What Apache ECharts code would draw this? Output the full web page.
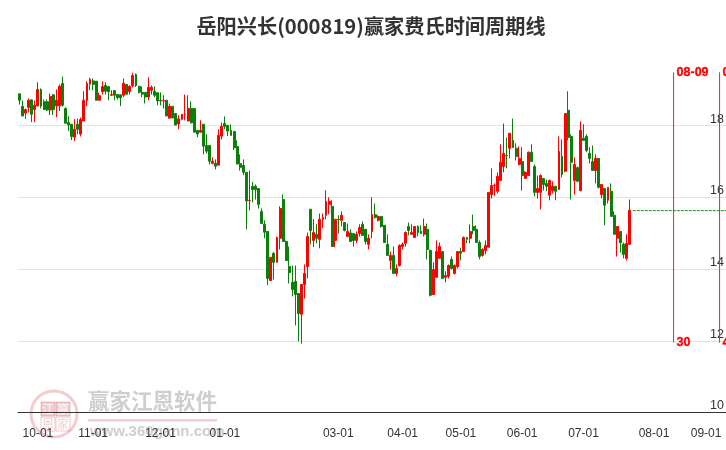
<!DOCTYPE html>
<html><head><meta charset="utf-8">
<style>html,body{margin:0;padding:0;background:#fff}#c{width:726px;height:450px}</style>
<script src="https://cdn.jsdelivr.net/npm/echarts@6/dist/echarts.min.js"></script>
</head><body><div id="c"></div>
<script>
const titleText = '岳阳兴长(000819)赢家费氏时间周期线';
const tickLabels = ['10-01','11-01','12-01','01-01','03-01','04-01','05-01','06-01','07-01','08-01','09-01'];
const tickSlots = [6,24,46,67,104,125,144,164,184,207,229];
const slotCount = 231;
const yTicks = [10,12,14,16,18];
// open, close, low, high
const ohlc = [
[18.89,18.71,18.59,18.89],[18.54,18.27,18.27,18.70],[18.35,18.45,18.19,18.48],[18.51,18.71,18.37,18.76],[18.72,18.32,18.10,18.74],
[18.45,18.57,18.10,18.70],[18.55,19.01,18.55,19.21],[19.01,18.55,18.48,19.04],[18.67,18.45,18.44,18.73],[18.67,18.44,18.41,18.73],
[18.44,18.82,18.30,18.90],[18.86,18.45,18.30,18.88],[18.55,18.71,18.24,19.01],[18.55,19.10,18.41,19.15],[19.18,18.57,18.53,19.37],
[18.48,18.07,18.07,18.51],[18.09,18.02,17.85,18.26],[18.04,17.70,17.60,18.04],[17.68,17.90,17.57,18.18],[18.04,17.90,17.76,18.20],
[17.77,18.17,17.70,18.23],[18.13,18.71,18.13,18.96],[18.70,19.18,18.55,19.24],[19.16,19.29,18.99,19.34],[19.25,19.15,18.99,19.32],
[19.24,18.71,18.71,19.24],[18.71,18.84,18.71,18.92],[18.95,19.09,18.87,19.24],[19.12,18.96,18.87,19.21],[19.09,18.95,18.71,19.09],
[18.85,18.87,18.83,18.99],[18.98,18.85,18.71,18.98],[18.87,18.78,18.73,18.87],[18.86,18.78,18.55,18.86],[18.85,19.18,18.80,19.32],
[19.15,18.88,18.87,19.15],[18.95,19.10,18.87,19.12],[19.12,19.40,19.07,19.48],[19.43,19.12,19.08,19.46],[19.10,18.93,18.90,19.10],
[18.93,18.88,18.80,19.09],[18.93,18.80,18.62,18.93],[18.80,19.07,18.71,19.35],[18.99,19.07,18.87,19.12],[18.96,18.85,18.79,19.10],
[18.92,18.69,18.57,18.92],[18.70,18.69,18.57,18.93],[18.69,18.70,18.48,18.85],[18.71,18.27,18.27,18.71],[18.21,18.54,18.20,18.62],
[18.54,18.22,18.20,18.54],[18.34,18.02,18.01,18.34],[18.05,18.19,17.90,18.29],[18.18,18.32,18.15,18.32],[18.31,18.32,18.15,18.87],
[18.13,18.48,18.13,18.85],[18.48,18.08,18.06,18.68],[18.48,17.82,17.82,18.48],[17.87,17.77,17.68,17.87],[17.82,17.87,17.81,18.15],
[18.04,17.43,17.20,18.04],[17.45,17.29,17.23,17.76],[17.45,17.01,16.92,17.45],[16.95,17.01,16.92,17.12],[16.95,16.87,16.78,17.06],
[16.90,17.73,16.90,17.90],[17.71,17.98,17.62,18.09],[18.06,17.98,17.90,18.26],[18.01,17.85,17.71,18.01],[17.87,17.73,17.73,18.04],
[17.84,17.38,17.32,17.84],[17.42,16.93,16.93,17.59],[16.94,16.84,16.75,17.20],[16.89,16.70,16.62,17.06],[16.70,15.90,15.11,16.70],
[15.91,15.92,15.64,16.75],[16.31,16.22,15.86,16.43],[16.31,16.21,15.94,16.36],[16.25,15.80,15.69,16.25],[15.61,15.27,15.27,15.69],
[15.25,15.03,14.86,15.36],[15.05,13.74,13.55,15.05],[13.68,14.33,13.68,14.33],[14.44,14.19,13.71,14.47],[14.19,14.88,14.19,14.91],
[14.86,15.69,14.55,15.75],[15.94,14.77,14.77,16.08],[14.77,14.24,14.24,14.80],[14.07,13.90,13.60,14.63],[13.63,13.43,13.24,14.10],
[13.66,13.29,12.43,14.10],[13.32,12.76,11.98,13.32],[12.74,13.57,11.92,13.57],[13.57,13.88,13.18,14.13],[14.07,14.91,13.74,15.02],
[15.67,15.08,14.69,15.67],[14.80,15.02,14.61,15.39],[14.97,14.86,14.72,15.25],[14.83,15.39,14.58,15.55],[15.39,15.44,15.14,15.55],
[15.50,15.89,15.39,16.20],[15.80,15.89,15.53,16.00],[15.75,14.63,14.63,15.92],[14.80,15.39,14.61,15.39],[15.39,15.38,14.99,15.50],
[15.36,15.50,15.19,15.61],[15.30,15.08,15.05,15.30],[14.91,15.05,14.91,15.27],[15.01,14.77,14.77,15.11],[14.99,14.80,14.63,14.99],
[14.80,14.97,14.72,15.05],[14.99,15.16,14.91,15.25],[15.25,14.94,14.94,15.33],[15.11,14.77,14.69,15.11],[14.69,14.86,14.55,14.97],
[15.05,15.52,14.86,16.00],[15.52,15.44,15.41,15.83],[15.36,15.47,15.33,15.50],[15.47,15.19,15.16,15.47],[15.22,14.74,14.74,15.22],
[14.69,14.38,14.38,14.97],[14.24,14.38,13.99,14.49],[14.38,13.88,13.88,14.63],[13.88,14.02,13.80,14.13],[14.10,14.66,14.07,14.69],
[14.63,14.69,14.55,14.74],[14.72,15.02,14.63,15.05],[15.19,15.08,14.94,15.30],[14.97,15.02,14.97,15.25],[14.88,15.19,14.88,15.19],
[15.19,15.02,14.91,15.22],[15.05,14.99,14.99,15.22],[14.97,15.19,14.91,15.41],[15.11,14.55,14.27,15.27],[14.52,13.27,13.24,14.55],
[13.29,13.99,13.29,14.19],[13.77,14.49,13.77,14.80],[14.30,14.63,14.30,14.74],[14.49,13.74,13.74,14.49],[13.77,13.82,13.63,13.94],
[13.80,14.10,13.74,14.13],[14.27,14.02,13.99,14.35],[13.88,14.10,13.85,14.13],[14.07,14.49,14.02,14.49],[14.49,14.44,14.24,14.60],
[14.49,14.88,14.49,14.91],[14.88,14.83,14.72,14.88],[14.86,15.05,14.72,15.25],[15.19,15.08,14.97,15.52],[15.11,14.74,14.74,15.22],
[14.74,14.35,14.27,14.80],[14.38,14.55,14.35,14.58],[14.52,14.66,14.41,14.80],[14.61,16.14,14.61,16.14],[16.08,16.33,15.97,16.81],
[16.33,16.34,16.04,16.39],[16.17,16.59,16.11,16.70],[16.47,16.98,16.47,17.48],[16.86,17.23,16.70,18.06],[17.17,17.16,16.81,17.67],
[17.37,17.79,17.09,17.79],[17.59,17.39,17.39,18.20],[17.37,17.14,17.03,17.51],[16.92,17.09,16.89,17.42],[17.00,16.61,16.19,17.40],
[16.53,16.70,16.53,16.73],[16.61,17.26,16.61,17.28],[17.26,17.00,17.00,17.48],[16.86,16.14,16.03,16.92],[16.14,16.25,15.97,16.61],
[16.14,16.61,15.66,16.64],[16.53,16.36,16.19,16.53],[16.39,16.31,16.17,16.50],[16.06,16.47,15.92,16.50],[16.19,16.31,16.11,16.45],
[16.31,16.17,15.92,16.31],[16.22,17.28,16.22,17.70],[17.14,16.64,16.56,17.62],[16.73,18.34,16.70,18.34],[18.43,17.67,17.59,18.96],
[17.70,16.98,15.94,17.76],[16.47,16.92,16.08,17.12],[16.83,16.45,16.42,16.86],[16.19,17.87,16.17,18.12],[17.65,17.59,17.59,18.04],
[17.70,17.31,17.26,17.76],[17.23,17.09,16.95,17.40],[17.00,16.75,16.75,17.45],[16.75,17.09,16.39,17.20],[17.09,16.28,16.25,17.09],
[16.08,16.36,15.97,16.36],[16.25,15.78,15.22,16.25],[15.92,16.28,15.83,16.28],[16.17,15.47,15.47,16.39],[15.50,14.97,14.97,15.61],
[14.86,15.19,14.35,15.19],[15.05,14.74,14.46,15.05],[14.69,14.41,14.30,14.74],[14.30,14.72,14.24,14.97],[14.69,15.64,14.69,15.94]
];
const lastLevel = 15.63;
const levelSpan = [200.6, 231];
const cycleSlots = [213.9, 228.9];
const cycleDates = ['08-09','08-30'];
const cycleCounts = ['30','45'];
const cycleRange = [11.95, 19.49];

const categories = [];
for (let i = 0; i < slotCount; i++) {
  const k = tickSlots.indexOf(i);
  if (k === tickLabels.length - 1) categories.push({value: tickLabels[k], textStyle: {align: 'right'}});
  else categories.push(k >= 0 ? tickLabels[k] : 'd' + i);
}
const labelFont = '"Liberation Sans",Arial,sans-serif';
const RED = '#fe0000', GREEN = '#0a7f0a';
const wm = 'rgba(120,120,120,0.36)', wr = 'rgba(200,60,60,0.26)';
const chart = echarts.init(document.getElementById('c'), null, {renderer: 'canvas'});
const cycleLabel = (txt) => ({show: true, position: 'right', distance: 3, formatter: txt, color: RED, fontWeight: 'bold', fontSize: 12.5, fontFamily: labelFont, textBorderColor: RED, textBorderWidth: 0.3});
const cycleSeries = cycleSlots.map((x, k) => ({
  type: 'line', xAxisIndex: 1, yAxisIndex: 0, symbol: 'circle', symbolSize: 0, showSymbol: true, showAllSymbol: true, silent: true, clip: false, z: 6,
  lineStyle: {color: '#e8262c', width: 1},
  itemStyle: {color: '#e8262c'},
  data: [
    {value: [x, cycleRange[1]], label: cycleLabel(cycleDates[k])},
    {value: [x, cycleRange[0]], label: cycleLabel(cycleCounts[k])}
  ]
}));
function cell(x, y, ch, solid) {
  return [
    {type: 'rect', shape: {x, y, width: 14, height: 14}, style: {fill: solid ? wr : 'none', stroke: wr, lineWidth: 1}, silent: true},
    {type: 'text', x: x + 7, y: y + 7, silent: true, style: {text: ch, fill: solid ? 'rgba(255,255,255,0.9)' : wr, font: '12px "Noto Sans CJK SC"', align: 'center', verticalAlign: 'middle'}}
  ];
}
chart.setOption({
  animation: false,
  backgroundColor: '#fff',
  title: {text: titleText, left: 366, top: 11, textAlign: 'center',
    textStyle: {fontFamily: '"Noto Sans CJK SC", sans-serif', fontSize: 20.2, fontWeight: 'bold', color: '#333'}},
  grid: {left: 18, right: 0, top: 54, bottom: 37.5, outerBoundsMode: 'none', containLabel: false},
  xAxis: [{
    type: 'category', data: categories, boundaryGap: true,
    axisLine: {lineStyle: {color: '#333', width: 1}},
    axisTick: {alignWithLabel: true, length: 8, lineStyle: {color: '#333'}, interval: (i) => tickSlots.includes(i)},
    axisLabel: {interval: (i) => tickSlots.includes(i), margin: 15, fontFamily: labelFont, fontSize: 12, color: '#333', hideOverlap: false},
    splitLine: {show: false}
  }, {type: 'value', min: 0, max: slotCount, show: false}],
  yAxis: [{
    type: 'value', min: 10, max: 20, interval: 2, position: 'right',
    axisLine: {show: false}, axisTick: {show: false},
    axisLabel: {inside: true, margin: 2, verticalAlign: 'bottom', align: 'right', showMaxLabel: false,
      fontFamily: labelFont, fontSize: 12.5, color: '#333',
      formatter: (v) => yTicks.includes(v) ? String(v) : ''},
    splitLine: {show: true, showMaxLine: false, showMinLine: false, lineStyle: {color: '#e4e4e4', width: 1}}
  }],
  graphic: [
    {type: 'group', z: -1, silent: true, children: [
      {type: 'circle', shape: {cx: 54, cy: 414, r: 23}, style: {fill: 'none', stroke: wr, lineWidth: 3}},
      ...cell(41, 402, '江', true), ...cell(56, 402, '赢', true), ...cell(41, 417, '恩', false), ...cell(56, 417, '家', false),
      {type: 'text', x: 88, y: 390, style: {text: '赢家江恩软件', fill: wm, font: 'bold 21.5px "Noto Sans CJK SC"'}},
      {type: 'rect', shape: {x: 88, y: 419, width: 129, height: 2.5}, style: {fill: wr}},
      {type: 'text', x: 90, y: 424, style: {text: 'www.360gann.com', fill: wm, font: 'bold 15px "Liberation Sans"'}}
    ]}
  ],
  series: [
    {type: 'candlestick', data: ohlc, barWidth: 2.4, clip: false, z: 3,
      itemStyle: {color: RED, color0: GREEN, borderColor: RED, borderColor0: GREEN, borderWidth: 1}},
    {type: 'line', xAxisIndex: 1, yAxisIndex: 0, symbol: 'none', silent: true, z: 2,
      lineStyle: {color: '#1a8a1a', width: 1, type: [3, 1]},
      data: levelSpan.map((x) => [x, lastLevel])},
    ...cycleSeries
  ]
});
</script></body></html>
